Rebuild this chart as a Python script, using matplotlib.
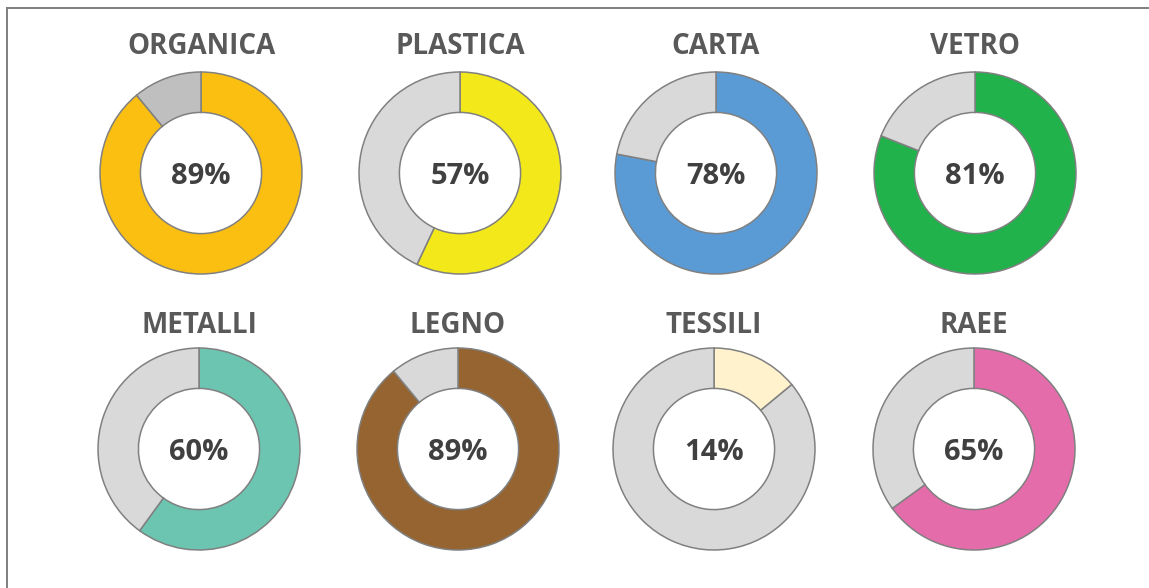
import matplotlib
matplotlib.use("Agg")
import matplotlib.pyplot as plt
from matplotlib.lines import Line2D

categories = ["ORGANICA", "PLASTICA", "CARTA", "VETRO",
              "METALLI", "LEGNO", "TESSILI", "RAEE"]
percentages = [89, 57, 78, 81, 60, 89, 14, 65]
colors = ["#FBBF12", "#F2E81A", "#5B9BD5", "#21B24B",
          "#6CC5B0", "#956430", "#FFF2CC", "#E46CAB"]
rest_colors = ["#BFBFBF", "#D9D9D9", "#D9D9D9", "#D9D9D9",
               "#D9D9D9", "#D9D9D9", "#D9D9D9", "#D9D9D9"]

W, H = 1149, 588
fig = plt.figure(figsize=(W / 100, H / 100), dpi=100)
fig.patch.set_facecolor("white")

# frame lines along the top and left edges
fig.add_artist(Line2D([7 / W, 7 / W], [0, 1 - 8 / H], color="#7F7F7F", lw=1.4))
fig.add_artist(Line2D([7 / W, 1], [1 - 8 / H, 1 - 8 / H], color="#7F7F7F", lw=1.4))

col_x = [[201, 460, 716, 975], [199, 458, 714, 974]]
row_y = [173, 449]
title_y = [47, 326]
R = 102

for i, (name, pct) in enumerate(zip(categories, percentages)):
    r, c = divmod(i, 4)
    cx, cy = col_x[r][c], row_y[r]
    ax = fig.add_axes([(cx - R) / W, (H - cy - R) / H, 2 * R / W, 2 * R / H])
    ax.pie([pct, 100 - pct], colors=[colors[i], rest_colors[i]],
           startangle=90, counterclock=False, radius=1,
           wedgeprops=dict(width=0.4, edgecolor="#808080", linewidth=1.1))
    ax.set_xlim(-1.01, 1.01)
    ax.set_ylim(-1.01, 1.01)
    ax.axis("off")
    ax.text(0, -0.03, f"{pct}%", ha="center", va="center",
            fontsize=21, fontweight="bold", color="#404040",
            family="Open Sans")
    fig.text(cx / W, 1 - title_y[r] / H, name, ha="center", va="center",
             fontsize=20, fontweight="bold", color="#595959",
             family="Open Sans")

fig.savefig("out.png", dpi=100)
